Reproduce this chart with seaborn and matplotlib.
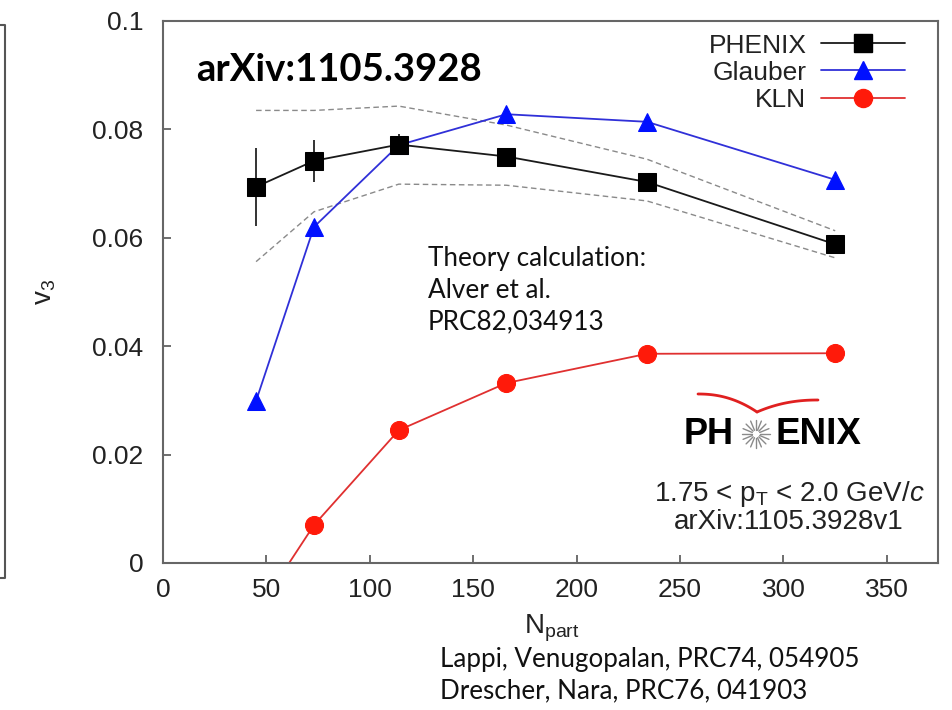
import numpy as np
import matplotlib
matplotlib.use("Agg")
import matplotlib.pyplot as plt
import seaborn as sns
from matplotlib.lines import Line2D

# Centrality bins (number of participants)
npart = [45, 73, 114, 166, 234, 325]

# PHENIX v3 measurement with statistical errors
phenix_v3 = [0.0694, 0.0742, 0.0772, 0.0750, 0.0703, 0.0588]
phenix_err = [0.0072, 0.0039, 0.0020, 0.0010, 0.0010, 0.0010]

# Systematic band edges
sys_upper = [0.0835, 0.0835, 0.0843, 0.0808, 0.0745, 0.0613]
sys_lower = [0.0556, 0.0648, 0.0699, 0.0697, 0.0668, 0.0563]

# Model predictions
glauber_v3 = [0.0299, 0.0620, 0.0771, 0.0828, 0.0814, 0.0707]
kln_v3 = [-0.0093, 0.0070, 0.0245, 0.0332, 0.0386, 0.0387]

xticks = [0, 50, 100, 150, 200, 250, 300, 350]
yticks = [0, 0.02, 0.04, 0.06, 0.08, 0.1]
ytick_labels = ["0", "0.02", "0.04", "0.06", "0.08", "0.1"]

sns.set_theme(style="white")
plt.rcParams["font.family"] = ["Liberation Sans", "DejaVu Sans"]
plt.rcParams["mathtext.fontset"] = "custom"
plt.rcParams["mathtext.rm"] = "Liberation Sans"
plt.rcParams["mathtext.it"] = "Liberation Sans:italic"
plt.rcParams["mathtext.default"] = "regular"

W, H = 952, 710
fig = plt.figure(figsize=(W / 100, H / 100), dpi=100)
fig.patch.set_facecolor("white")
ax = fig.add_axes([163 / W, 1 - 563 / H, (938 - 163) / W, (563 - 21) / H])


def px(x, y):
    return (x / W, 1 - y / H)


MS = 13

# Systematic band (dashed)
sns.lineplot(x=npart, y=sys_upper, ax=ax, color="#8a8a8a", lw=1.0,
             linestyle=(0, (4, 2.5)), sort=False)
sns.lineplot(x=npart, y=sys_lower, ax=ax, color="#8a8a8a", lw=1.0,
             linestyle=(0, (4, 2.5)), sort=False)

# Models
sns.lineplot(x=npart, y=kln_v3, ax=ax, color="#e03030", lw=1.3, marker="o",
             markersize=MS, markerfacecolor="#ff1a0a", markeredgecolor="#ff1a0a",
             sort=False)
sns.lineplot(x=npart, y=glauber_v3, ax=ax, color="#3030d8", lw=1.3, marker="^",
             markersize=MS, markerfacecolor="#0010ff", markeredgecolor="#0010ff",
             sort=False)

# Data
ax.errorbar(npart, phenix_v3, yerr=phenix_err, fmt="none", ecolor="#111111",
            elinewidth=1.2, capsize=0, zorder=4)
sns.lineplot(x=npart, y=phenix_v3, ax=ax, color="#1a1a1a", lw=1.3, marker="s",
             markersize=MS, markerfacecolor="black", markeredgecolor="black",
             sort=False, zorder=5)

ax.set_xlim(0, 374.7)
ax.set_ylim(0, 0.1)
ax.set_xticks(xticks)
ax.set_xticklabels([str(t) for t in xticks])
ax.set_yticks(yticks)
ax.set_yticklabels(ytick_labels)
ax.tick_params(axis="both", direction="in", length=6, width=1.2, color="#555555",
               labelsize=19, labelcolor="#222222", bottom=True, left=True)
ax.tick_params(axis="x", pad=11)
ax.tick_params(axis="y", pad=14)
for s in ax.spines.values():
    s.set_color("#666666")
    s.set_linewidth(1.5)
ax.set_xlabel("")
ax.set_ylabel("")

# Legend with labels on the left of the handles
handles = [
    Line2D([], [], color="#1a1a1a", lw=1.3, marker="s", markersize=MS,
           markerfacecolor="black", markeredgecolor="black"),
    Line2D([], [], color="#3030d8", lw=1.3, marker="^", markersize=MS,
           markerfacecolor="#0010ff", markeredgecolor="#0010ff"),
    Line2D([], [], color="#e03030", lw=1.3, marker="o", markersize=MS,
           markerfacecolor="#ff1a0a", markeredgecolor="#ff1a0a"),
]
leg = ax.legend(handles, ["PHENIX", "Glauber", "KLN"], loc="upper right",
                bbox_to_anchor=(1 - 22 / 775, 1 - 2 / 542), frameon=False,
                markerfirst=False, fontsize=19, handlelength=3.2,
                labelspacing=0.12, handletextpad=0.55, borderaxespad=0)
for t in leg.get_texts():
    t.set_color("#222222")

# Axis titles
fig.text(*px(45, 292), "v$_3$", rotation=90, fontsize=20, color="#222222",
         ha="center", va="center")
fig.text(*px(552, 628), "N$_{part}$", fontsize=20, color="#222222",
         ha="center", va="center")

# Annotations
fig.text(*px(196, 70), "arXiv:1105.3928", family=["Lato", "DejaVu Sans"],
         fontweight="bold", fontsize=27.5, color="black", ha="left", va="center")
fig.text(*px(428, 290), "Theory calculation:\nAlver et al.\nPRC82,034913",
         family=["Lato", "DejaVu Sans"], fontsize=18.8, color="#111111",
         ha="left", va="center", linespacing=1.32)
fig.text(*px(440, 675), "Lappi, Venugopalan, PRC74, 054905\nDrescher, Nara, PRC76, 041903",
         family=["Lato", "DejaVu Sans"], fontsize=18.7, color="#111111",
         ha="left", va="center", linespacing=1.32)
fig.text(*px(789, 494), "1.75 < p$_T$ < 2.0 GeV/$\\mathit{c}$", fontsize=20,
         color="#222222", ha="center", va="center")
fig.text(*px(789, 522), "arXiv:1105.3928v1", fontsize=20,
         color="#222222", ha="center", va="center")

# PHENIX logo
fig.text(*px(734, 435), "PH", fontsize=26, fontweight="bold", color="black",
         ha="right", va="center")
fig.text(*px(776, 435), "ENIX", fontsize=26.5, fontweight="bold", color="black",
         ha="left", va="center")
cx, cy = 756, 434
for k in range(16):
    a = 2 * np.pi * k / 16
    r0, r1 = 4, 14
    x0, y0 = px(cx + r0 * np.cos(a), cy + r0 * np.sin(a))
    x1, y1 = px(cx + r1 * np.cos(a), cy + r1 * np.sin(a))
    fig.add_artist(Line2D([x0, x1], [y0, y1], color="#8a8a8a", lw=1.0))
# red wings above the logo
t = np.linspace(0, 1, 40)
lx = 698 + (757 - 698) * t
ly = 394 + (412 - 394) * t ** 2.2
rx = 757 + (818 - 757) * t
ry = 412 - (412 - 400) * (1 - (1 - t) ** 2.2)
fig.add_artist(Line2D([px(x, y)[0] for x, y in zip(lx, ly)],
                      [px(x, y)[1] for x, y in zip(lx, ly)], color="#e02020", lw=2.0))
fig.add_artist(Line2D([px(x, y)[0] for x, y in zip(rx, ry)],
                      [px(x, y)[1] for x, y in zip(rx, ry)], color="#e02020", lw=2.0))

# Slide frame edge on the left
bx = [px(0, 25)[0], px(5, 25)[0], px(5, 578)[0], px(0, 578)[0]]
by = [px(0, 25)[1], px(5, 25)[1], px(5, 578)[1], px(0, 578)[1]]
fig.add_artist(Line2D(bx, by, color="#555555", lw=1.5))

fig.savefig("out.png", dpi=100, facecolor="white")
